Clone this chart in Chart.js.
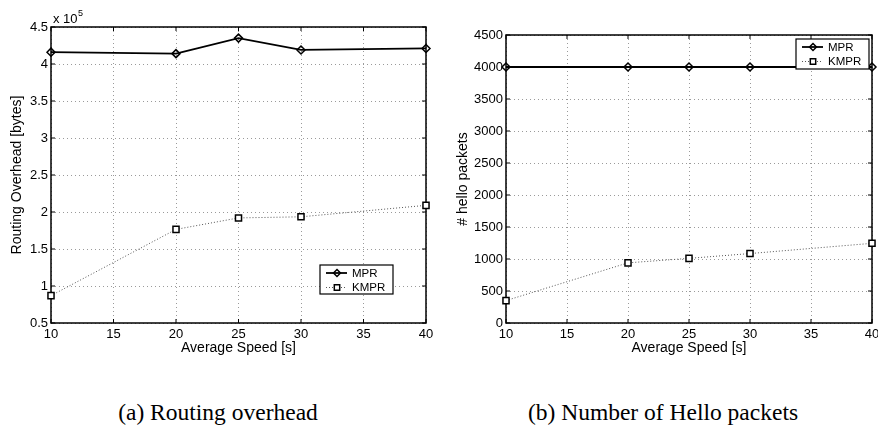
<!DOCTYPE html>
<html>
<head>
<meta charset="utf-8">
<script src="https://cdn.jsdelivr.net/npm/chart.js"></script>
<style>
  body { margin: 0; background: #fff; }
  #wrap { position: relative; width: 878px; height: 428px; overflow: hidden; background: #fff; }
  canvas { position: absolute; top: 0; }
  .cap { position: absolute; top: 401px; width: 320px; text-align: center;
         font-family: "Liberation Serif", "Times New Roman", serif; font-size: 23.5px; line-height: 1; color: #000; }
</style>
</head>
<body>
<div id="wrap">
  <canvas id="chartA" width="440" height="365" style="left:0"></canvas>
  <canvas id="chartB" width="438" height="365" style="left:440px"></canvas>
  <div class="cap" id="capA" style="left:58px"></div>
  <div class="cap" id="capB" style="left:503px"></div>
</div>
<script>
// values
const speeds = [10, 20, 25, 30, 40];
const seriesNames = ['MPR', 'KMPR'];
const overheadMPR = [416000, 414000, 435000, 419000, 421000];
const overheadKMPR = [87000, 176500, 192000, 193500, 209000];
const helloMPR = [4000, 4000, 4000, 4000, 4000];
const helloKMPR = [350, 940, 1010, 1085, 1245];
const xTitle = 'Average Speed [s]';
const yTitles = ['Routing Overhead [bytes]', '# hello packets'];
const captions = ['(a) Routing overhead', '(b) Number of Hello packets'];

document.getElementById('capA').textContent = captions[0];
document.getElementById('capB').textContent = captions[1];

Chart.defaults.font.family = '"Liberation Sans", Arial, sans-serif';
Chart.defaults.color = '#000';

function toPoints(ys) {
    return speeds.map((x, i) => ({ x: x, y: ys[i] }));
}

function makeDatasets(mpr, kmpr) {
    return [
        {
            label: seriesNames[0],
            data: toPoints(mpr),
            borderColor: '#000',
            borderWidth: 1.8,
            pointStyle: 'rectRot',
            pointRadius: 4,
            pointBorderWidth: 1.5,
            pointBorderColor: '#000',
            pointBackgroundColor: 'rgba(0,0,0,0)',
            clip: false
        },
        {
            label: seriesNames[1],
            data: toPoints(kmpr),
            borderColor: '#555',
            borderWidth: 1,
            borderDash: [1, 2],
            pointStyle: 'rect',
            pointRadius: 4.3,
            pointBorderWidth: 1.5,
            pointBorderColor: '#000',
            pointBackgroundColor: '#fff',
            clip: false
        }
    ];
}

// black box round the plot, with short inward ticks like matlab
const framePlugin = {
    id: 'frame',
    beforeDatasetsDraw(chart) {
        const { ctx, chartArea: a, scales } = chart;
        ctx.save();
        ctx.strokeStyle = '#000';
        ctx.lineWidth = 1;
        ctx.beginPath();
        scales.x.ticks.forEach(t => {
            const px = scales.x.getPixelForValue(t.value);
            ctx.moveTo(px, a.bottom); ctx.lineTo(px, a.bottom - 4);
            ctx.moveTo(px, a.top); ctx.lineTo(px, a.top + 4);
        });
        scales.y.ticks.forEach(t => {
            const py = scales.y.getPixelForValue(t.value);
            ctx.moveTo(a.left, py); ctx.lineTo(a.left + 4, py);
            ctx.moveTo(a.right, py); ctx.lineTo(a.right - 4, py);
        });
        ctx.stroke();
        ctx.lineWidth = 1.5;
        ctx.strokeRect(a.left, a.top, a.right - a.left, a.bottom - a.top);
        ctx.restore();
    }
};

function legendPlugin(bx, by, w, h) {
    return {
        id: 'boxLegend',
        afterDraw(chart) {
            const ctx = chart.ctx;
            ctx.save();
            ctx.fillStyle = '#fff';
            ctx.fillRect(bx, by, w, h);
            ctx.strokeStyle = '#000';
            ctx.lineWidth = 1.2;
            ctx.strokeRect(bx, by, w, h);
            chart.data.datasets.forEach((ds, i) => {
                const y = by + 8 + i * 14.5;
                ctx.strokeStyle = ds.borderColor;
                ctx.lineWidth = ds.borderWidth;
                ctx.setLineDash(ds.borderDash || []);
                ctx.beginPath();
                ctx.moveTo(bx + 6, y);
                ctx.lineTo(bx + 27, y);
                ctx.stroke();
                ctx.setLineDash([]);
                ctx.strokeStyle = '#000';
                ctx.lineWidth = 1.5;
                const cx = bx + 17;
                ctx.beginPath();
                if (ds.pointStyle === 'rectRot') {
                    ctx.moveTo(cx, y - 3.5); ctx.lineTo(cx + 3.5, y);
                    ctx.lineTo(cx, y + 3.5); ctx.lineTo(cx - 3.5, y);
                    ctx.closePath();
                } else {
                    ctx.fillStyle = '#fff';
                    ctx.rect(cx - 2.7, y - 2.7, 5.4, 5.4);
                    ctx.fill();
                }
                ctx.stroke();
                ctx.fillStyle = '#000';
                ctx.font = '11.5px "Liberation Sans", Arial, sans-serif';
                ctx.textBaseline = 'middle';
                ctx.fillText(ds.label, bx + 32, y + 0.5);
            });
            ctx.restore();
        }
    };
}

// "x 10^5" multiplier over the y axis of panel (a)
const exponentPlugin = {
    id: 'exponent',
    afterDraw(chart) {
        const ctx = chart.ctx;
        ctx.save();
        ctx.fillStyle = '#000';
        ctx.textBaseline = 'alphabetic';
        ctx.font = '13px "Liberation Sans", Arial, sans-serif';
        ctx.fillText('x 10', 53, 23);
        const w = ctx.measureText('x 10').width;
        ctx.font = '9px "Liberation Sans", Arial, sans-serif';
        ctx.fillText('5', 53 + w + 0.5, 16);
        ctx.restore();
    }
};

function makeChart(id, cfg) {
    const H = 365;
    return new Chart(document.getElementById(id), {
        type: 'line',
        data: { datasets: makeDatasets(cfg.mpr, cfg.kmpr) },
        options: {
            responsive: false,
            animation: false,
            devicePixelRatio: 1,
            layout: { padding: { left: 0, top: cfg.top, right: cfg.right, bottom: 0 } },
            plugins: { legend: { display: false }, tooltip: { enabled: false } },
            scales: {
                x: {
                    type: 'linear',
                    min: 10, max: 40,
                    ticks: { stepSize: 5, padding: 4, font: { size: 13 } },
                    grid: { color: '#9a9a9a', lineWidth: 1, drawTicks: false },
                    border: { display: false, dash: [1, 3] },
                    title: { display: true, text: xTitle, font: { size: 14 }, padding: { top: 0, bottom: 8 } },
                    afterFit(s) { s.height = H - 323; s.paddingLeft = 0; s.paddingRight = 0; }
                },
                y: {
                    min: cfg.ymin, max: cfg.ymax,
                    ticks: { stepSize: cfg.ystep, padding: 3, font: { size: 13 }, callback: cfg.yfmt },
                    grid: { color: '#9a9a9a', lineWidth: 1, drawTicks: false },
                    border: { display: false, dash: [1, 3] },
                    title: { display: true, text: cfg.ytitle, font: { size: 14 }, padding: { top: cfg.ytitlePad, bottom: 0 } },
                    afterFit(s) { s.width = cfg.left; }
                }
            }
        },
        plugins: cfg.plugins
    });
}

makeChart('chartA', {
    mpr: overheadMPR, kmpr: overheadKMPR,
    top: 27, right: 14, left: 51,
    ymin: 50000, ymax: 450000, ystep: 50000,
    yfmt: v => parseFloat((v / 1e5).toFixed(1)),
    ytitle: yTitles[0], ytitlePad: 9,
    plugins: [framePlugin, legendPlugin(320, 265, 73, 29), exponentPlugin]
});

makeChart('chartB', {
    mpr: helloMPR, kmpr: helloKMPR,
    top: 35, right: 6, left: 66,
    ymin: 0, ymax: 4500, ystep: 500,
    yfmt: v => v,
    ytitle: yTitles[1], ytitlePad: 15,
    plugins: [framePlugin, legendPlugin(356, 39, 73, 30)]
});
</script>
</body>
</html>
